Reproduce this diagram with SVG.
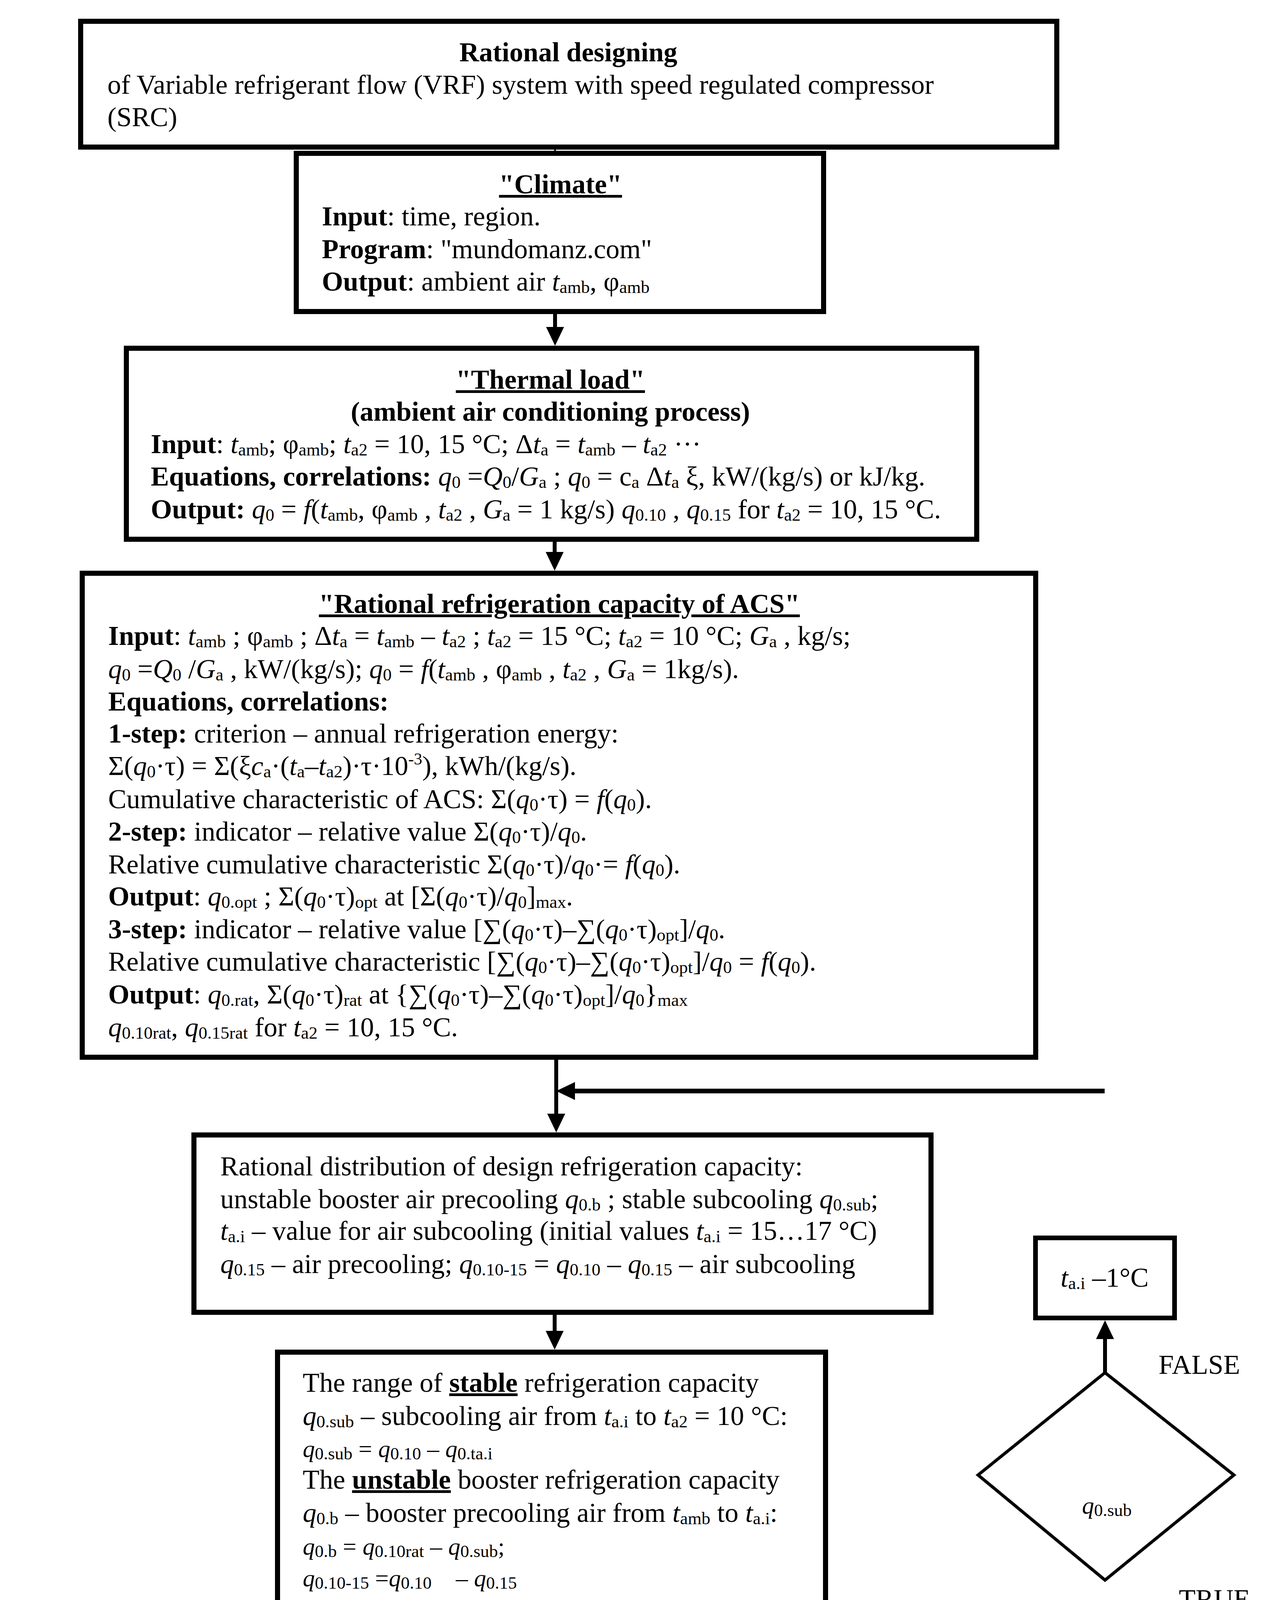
<svg xmlns="http://www.w3.org/2000/svg" width="3236" height="6126" viewBox="0 0 3236 6126">
<style>
text{font-family:"Liberation Serif","Times New Roman",serif;font-size:70px;fill:#000}
.b{font-weight:bold}
.i{font-style:italic}
.s{font-size:45px;baseline-shift:-6px}
.sp{font-size:43px;baseline-shift:27px}
.u{text-decoration:underline}
.m{text-anchor:middle}
.sm{font-size:62px}
.box{fill:#fff;stroke:#000;stroke-width:13}
.sbox{fill:#fff;stroke:#000;stroke-width:12}
.ln{fill:none;stroke:#000;stroke-width:10}
.hl{fill:none;stroke:#000;stroke-width:12}
</style>
<defs>
<marker id="ah" markerUnits="userSpaceOnUse" markerWidth="48" markerHeight="46" viewBox="0 0 48 46" refX="0" refY="23" orient="auto">
<path d="M0,0 L48,23 L0,46 Z" fill="#000"/>
</marker>
</defs>
<rect width="3236" height="6126" fill="#fff"/>

<g id="connectors">
<line class="ln" x1="1421" y1="383" x2="1421" y2="386" style="stroke-width:4"/>
<line class="ln" x1="1421" y1="804" x2="1421" y2="837" marker-end="url(#ah)"/>
<line class="ln" x1="1420" y1="1387" x2="1420" y2="1413" marker-end="url(#ah)"/>
<line class="ln" x1="1424" y1="2713" x2="1424" y2="2851" marker-end="url(#ah)"/>
<line class="hl" x1="2828" y1="2793" x2="1472" y2="2793" marker-end="url(#ah)"/>
<line class="ln" x1="1420" y1="3366" x2="1420" y2="3407" marker-end="url(#ah)"/>
<line class="ln" x1="1424" y1="4125" x2="1424" y2="4202" marker-end="url(#ah)"/>
<line class="hl" x1="1419" y1="4256" x2="1628" y2="4256"/>
<line class="hl" x1="1940" y1="4256" x2="2287" y2="4256"/>
<line class="hl" x1="2860" y1="4444" x2="1472" y2="4444" marker-end="url(#ah)"/>
<line class="ln" x1="1424" y1="4450" x2="1424" y2="4527" marker-end="url(#ah)"/>
<line class="ln" x1="1426" y1="5076" x2="1426" y2="5146" marker-end="url(#ah)"/>
<line class="ln" x1="1425" y1="5530" x2="1425" y2="5534" marker-end="url(#ah)"/>
<line class="ln" x1="2829" y1="3514" x2="2829" y2="3428" marker-end="url(#ah)"/>
</g>

<g id="title">
<rect class="box" x="206.5" y="54.5" width="2499" height="322"/>
<text class="b m" x="1455" y="157">Rational designing</text>
<text x="275" y="240">of Variable refrigerant flow (VRF) system with speed regulated compressor</text>
<text x="275" y="323">(SRC)</text>
</g>

<g id="climate">
<rect class="box" x="758.5" y="392.5" width="1350" height="405"/>
<text class="b m u" x="1435" y="495">"Climate"</text>
<text x="824" y="577"><tspan class="b">Input</tspan>: time, region.</text>
<text x="824" y="661"><tspan class="b">Program</tspan>: "mundomanz.com"</text>
<text x="824" y="744"><tspan class="b">Output</tspan>: ambient air <tspan class="i">t</tspan><tspan class="s">amb</tspan>, φ<tspan class="s">amb</tspan></text>
</g>

<g id="thermal">
<rect class="box" x="323.5" y="891.5" width="2177" height="489"/>
<text class="b m u" x="1409" y="995">"Thermal load"</text>
<text class="b m" x="1409" y="1077">(ambient air conditioning process)</text>
<text x="386" y="1160"><tspan class="b">Input</tspan>: <tspan class="i">t</tspan><tspan class="s">amb</tspan>; φ<tspan class="s">amb</tspan>; <tspan class="i">t</tspan><tspan class="s">a2</tspan> = 10, 15 °C; Δ<tspan class="i">t</tspan><tspan class="s">a</tspan> = <tspan class="i">t</tspan><tspan class="s">amb</tspan> – <tspan class="i">t</tspan><tspan class="s">a2</tspan> ···</text>
<text x="386" y="1243"><tspan class="b">Equations, correlations:</tspan> <tspan class="i">q</tspan><tspan class="s">0</tspan> =<tspan class="i">Q</tspan><tspan class="s">0</tspan>/<tspan class="i">G</tspan><tspan class="s">a</tspan> ; <tspan class="i">q</tspan><tspan class="s">0</tspan> = c<tspan class="s">a</tspan> Δ<tspan class="i">t</tspan><tspan class="s">a</tspan> ξ, kW/(kg/s) or kJ/kg.</text>
<text x="386" y="1327"><tspan class="b">Output:</tspan> <tspan class="i">q</tspan><tspan class="s">0</tspan> = <tspan class="i">f</tspan>(<tspan class="i">t</tspan><tspan class="s">amb</tspan>, φ<tspan class="s">amb</tspan> , <tspan class="i">t</tspan><tspan class="s">a2</tspan> , <tspan class="i">G</tspan><tspan class="s">a</tspan> = 1 kg/s) <tspan class="i">q</tspan><tspan class="s">0.10</tspan> , <tspan class="i">q</tspan><tspan class="s">0.15</tspan> for <tspan class="i">t</tspan><tspan class="s">a2</tspan> = 10, 15 °C.</text>
</g>

<g id="rational-capacity">
<rect class="box" x="210.5" y="1467.5" width="2441" height="1239"/>
<text class="b m u" x="1432" y="1569">"Rational refrigeration capacity of ACS"</text>
<text x="277" y="1651"><tspan class="b">Input</tspan>: <tspan class="i">t</tspan><tspan class="s">amb</tspan> ; φ<tspan class="s">amb</tspan> ; Δ<tspan class="i">t</tspan><tspan class="s">a</tspan> = <tspan class="i">t</tspan><tspan class="s">amb</tspan> – <tspan class="i">t</tspan><tspan class="s">a2</tspan> ; <tspan class="i">t</tspan><tspan class="s">a2</tspan> = 15 °C; <tspan class="i">t</tspan><tspan class="s">a2</tspan> = 10 °C; <tspan class="i">G</tspan><tspan class="s">a</tspan> , kg/s;</text>
<text x="277" y="1736"><tspan class="i">q</tspan><tspan class="s">0</tspan> =<tspan class="i">Q</tspan><tspan class="s">0</tspan> /<tspan class="i">G</tspan><tspan class="s">a</tspan> , kW/(kg/s); <tspan class="i">q</tspan><tspan class="s">0</tspan> = <tspan class="i">f</tspan>(<tspan class="i">t</tspan><tspan class="s">amb</tspan> , φ<tspan class="s">amb</tspan> , <tspan class="i">t</tspan><tspan class="s">a2</tspan> , <tspan class="i">G</tspan><tspan class="s">a</tspan> = 1kg/s).</text>
<text class="b" x="277" y="1819">Equations, correlations:</text>
<text x="277" y="1901"><tspan class="b">1-step:</tspan> criterion – annual refrigeration energy:</text>
<text x="277" y="1984">Σ(<tspan class="i">q</tspan><tspan class="s">0</tspan>·τ) = Σ(ξ<tspan class="i">c</tspan><tspan class="s">a</tspan>·(<tspan class="i">t</tspan><tspan class="s">a</tspan>–<tspan class="i">t</tspan><tspan class="s">a2</tspan>)·τ·10<tspan class="sp">-3</tspan>), kWh/(kg/s).</text>
<text x="277" y="2069">Cumulative characteristic of ACS: Σ(<tspan class="i">q</tspan><tspan class="s">0</tspan>·τ) = <tspan class="i">f</tspan>(<tspan class="i">q</tspan><tspan class="s">0</tspan>).</text>
<text x="277" y="2152"><tspan class="b">2-step:</tspan> indicator – relative value Σ(<tspan class="i">q</tspan><tspan class="s">0</tspan>·τ)/<tspan class="i">q</tspan><tspan class="s">0</tspan>.</text>
<text x="277" y="2236">Relative cumulative characteristic Σ(<tspan class="i">q</tspan><tspan class="s">0</tspan>·τ)/<tspan class="i">q</tspan><tspan class="s">0</tspan>·= <tspan class="i">f</tspan>(<tspan class="i">q</tspan><tspan class="s">0</tspan>).</text>
<text x="277" y="2318"><tspan class="b">Output</tspan>: <tspan class="i">q</tspan><tspan class="s">0.opt</tspan> ; Σ(<tspan class="i">q</tspan><tspan class="s">0</tspan>·τ)<tspan class="s">opt</tspan> at [Σ(<tspan class="i">q</tspan><tspan class="s">0</tspan>·τ)/<tspan class="i">q</tspan><tspan class="s">0</tspan>]<tspan class="s">max</tspan>.</text>
<text x="277" y="2402"><tspan class="b">3-step:</tspan> indicator – relative value [∑(<tspan class="i">q</tspan><tspan class="s">0</tspan>·τ)–∑(<tspan class="i">q</tspan><tspan class="s">0</tspan>·τ)<tspan class="s">opt</tspan>]/<tspan class="i">q</tspan><tspan class="s">0</tspan>.</text>
<text x="277" y="2485">Relative cumulative characteristic [∑(<tspan class="i">q</tspan><tspan class="s">0</tspan>·τ)–∑(<tspan class="i">q</tspan><tspan class="s">0</tspan>·τ)<tspan class="s">opt</tspan>]/<tspan class="i">q</tspan><tspan class="s">0</tspan> = <tspan class="i">f</tspan>(<tspan class="i">q</tspan><tspan class="s">0</tspan>).</text>
<text x="277" y="2569"><tspan class="b">Output</tspan>: <tspan class="i">q</tspan><tspan class="s">0.rat</tspan>, Σ(<tspan class="i">q</tspan><tspan class="s">0</tspan>·τ)<tspan class="s">rat</tspan> at {∑(<tspan class="i">q</tspan><tspan class="s">0</tspan>·τ)–∑(<tspan class="i">q</tspan><tspan class="s">0</tspan>·τ)<tspan class="s">opt</tspan>]/<tspan class="i">q</tspan><tspan class="s">0</tspan>}<tspan class="s">max</tspan></text>
<text x="277" y="2653"><tspan class="i">q</tspan><tspan class="s">0.10rat</tspan>, <tspan class="i">q</tspan><tspan class="s">0.15rat</tspan> for <tspan class="i">t</tspan><tspan class="s">a2</tspan> = 10, 15 °C.</text>
</g>

<g id="distribution">
<rect class="box" x="496.5" y="2905.5" width="1887" height="454"/>
<text x="564" y="3009">Rational distribution of design refrigeration capacity:</text>
<text x="564" y="3093">unstable booster air precooling <tspan class="i">q</tspan><tspan class="s">0.b</tspan> ; stable subcooling <tspan class="i">q</tspan><tspan class="s">0.sub</tspan>;</text>
<text x="564" y="3174"><tspan class="i">t</tspan><tspan class="s">a.i</tspan> – value for air subcooling (initial values <tspan class="i">t</tspan><tspan class="s">a.i</tspan> = 15…17 °C)</text>
<text x="564" y="3259"><tspan class="i">q</tspan><tspan class="s">0.15</tspan> – air precooling; <tspan class="i">q</tspan><tspan class="s">0.10-15</tspan> = <tspan class="i">q</tspan><tspan class="s">0.10</tspan> – <tspan class="i">q</tspan><tspan class="s">0.15</tspan> – air subcooling</text>
</g>

<g id="stable-range">
<rect class="box" x="710.5" y="3461.5" width="1403" height="657"/>
<text x="775" y="3563">The range of <tspan class="b u">stable</tspan> refrigeration capacity</text>
<text x="775" y="3648"><tspan class="i">q</tspan><tspan class="s">0.sub</tspan> – subcooling air from <tspan class="i">t</tspan><tspan class="s">a.i</tspan> to <tspan class="i">t</tspan><tspan class="s">a2</tspan> = 10 °C:</text>
<text class="sm" x="775" y="3730"><tspan class="i">q</tspan><tspan class="s">0.sub</tspan> = <tspan class="i">q</tspan><tspan class="s">0.10</tspan> – <tspan class="i">q</tspan><tspan class="s">0.ta.i</tspan></text>
<text x="775" y="3811">The <tspan class="b u">unstable</tspan> booster refrigeration capacity</text>
<text x="775" y="3896"><tspan class="i">q</tspan><tspan class="s">0.b</tspan> – booster precooling air from <tspan class="i">t</tspan><tspan class="s">amb</tspan> to <tspan class="i">t</tspan><tspan class="s">a.i</tspan>:</text>
<text class="sm" x="775" y="3980"><tspan class="i">q</tspan><tspan class="s">0.b</tspan> = <tspan class="i">q</tspan><tspan class="s">0.10rat</tspan> – <tspan class="i">q</tspan><tspan class="s">0.sub</tspan>;</text>
<text class="sm" x="775" y="4061"><tspan class="i">q</tspan><tspan class="s">0.10-15</tspan> =<tspan class="i">q</tspan><tspan class="s">0.10</tspan>&#160;&#160;&#160; – <tspan class="i">q</tspan><tspan class="s">0.15</tspan></text>
</g>

<g id="decision">
<polygon points="2829,3514 3159,3776 2829,4045 2504,3776" fill="#fff" stroke="#000" stroke-width="8"/>
<text class="sm" x="2770" y="3875"><tspan class="i">q</tspan><tspan class="s">0.sub</tspan></text>
<text x="2966" y="3517">FALSE</text>
<text x="3018" y="4117">TRUE</text>
</g>

<g id="decrement">
<rect class="sbox" x="2651" y="3169" width="356" height="205"/>
<text class="m" x="2828" y="3294"><tspan class="i">t</tspan><tspan class="s">a.i</tspan> –1°C</text>
</g>

<g id="q0sub">
<rect class="sbox" x="1634" y="4151" width="300" height="204"/>
<text class="sm" x="1695" y="4277"><tspan class="i">q</tspan><tspan class="s">0.sub</tspan></text>
</g>

<g id="threshold">
<rect class="sbox" x="2671" y="4169" width="356" height="205"/>
<text x="2739" y="4296"><tspan class="i">t</tspan><tspan class="s">thr</tspan> = <tspan class="i">t</tspan><tspan class="s">a.i</tspan></text>
</g>

<g id="unstable-booster">
<rect class="box" x="154.5" y="4581.5" width="2556" height="488"/>
<text x="217" y="4682">The <tspan class="b u">unstable</tspan> booster refrigeration capacity for precooling air from <tspan class="i">t</tspan><tspan class="s">amb</tspan> to <tspan class="i">t</tspan><tspan class="s">thr</tspan></text>
<text x="217" y="4765">=15°C:</text>
<text x="217" y="4850"><tspan class="i">q</tspan><tspan class="s">0.b10-15</tspan> = <tspan class="i">q</tspan><tspan class="s">0.10rat</tspan> – <tspan class="i">q</tspan><tspan class="s">0.10-15</tspan> ; <tspan class="i">q</tspan><tspan class="s">0.10-15</tspan> =<tspan class="i">q</tspan><tspan class="s">0.10</tspan> – <tspan class="i">q</tspan><tspan class="s">0.15</tspan> ; <tspan class="i">t</tspan><tspan class="s">thr</tspan> =15°C – threshold value.</text>
<text x="217" y="4932">The <tspan class="b u">stable</tspan> refrigeration capacity for subcooling air from <tspan class="i">t</tspan><tspan class="s">thr</tspan> =15°C to <tspan class="i">t</tspan><tspan class="s">a2</tspan> =10°C:</text>
<text x="217" y="5015"><tspan class="i">q</tspan><tspan class="s">0.sub</tspan> = <tspan class="i">q</tspan><tspan class="s">0.10-15</tspan> ; <tspan class="i">q</tspan><tspan class="s">0.10-15</tspan> =<tspan class="i">q</tspan><tspan class="s">0.10</tspan> – <tspan class="i">q</tspan><tspan class="s">0.15</tspan>.</text>
</g>

<g id="comparison">
<rect class="box" x="58.5" y="5200.5" width="2747" height="323"/>
<text class="b m" x="1431" y="5303">Comparison</text>
<text x="124" y="5387">of regulated LRL<tspan class="i">q</tspan><tspan class="s">0.10rat</tspan> and unregulated (1–LRL) <tspan class="i">q</tspan><tspan class="s">0.10rat</tspan> load ranges</text>
<text x="124" y="5470">with unstable booster air precooling <tspan class="i">q</tspan><tspan class="s">0.b10-15</tspan>&#160;&#160;&#160; and stable air subcooling <tspan class="i">q</tspan><tspan class="s">0.sub</tspan> = <tspan class="i">q</tspan><tspan class="s">0.10-15</tspan></text>
</g>

<g id="results">
<rect class="box" x="134.5" y="5587.5" width="2591" height="491"/>
<text class="b m" x="1431" y="5691">Results</text>
<text x="201" y="5774">Required value LRL<tspan class="s">10-15</tspan> = ∑(q<tspan class="s">0.b10-15</tspan> τ)/∑(q<tspan class="s">0.10rat</tspan>τ) or LRL<tspan class="s">10-15</tspan> = 1 – ∑(q<tspan class="s">0.10-15</tspan></text>
<text x="201" y="5859">τ)/∑(q<tspan class="s">0.10rat</tspan>τ).</text>
<text x="201" y="5938"><tspan class="b">Criterion</tspan> of the efficiency of the SCR operation: LRL /LRL<tspan class="s">10-15</tspan>,</text>
<text x="201" y="6024">where LRL– real value of the SCR applied.</text>
</g>
</svg>
